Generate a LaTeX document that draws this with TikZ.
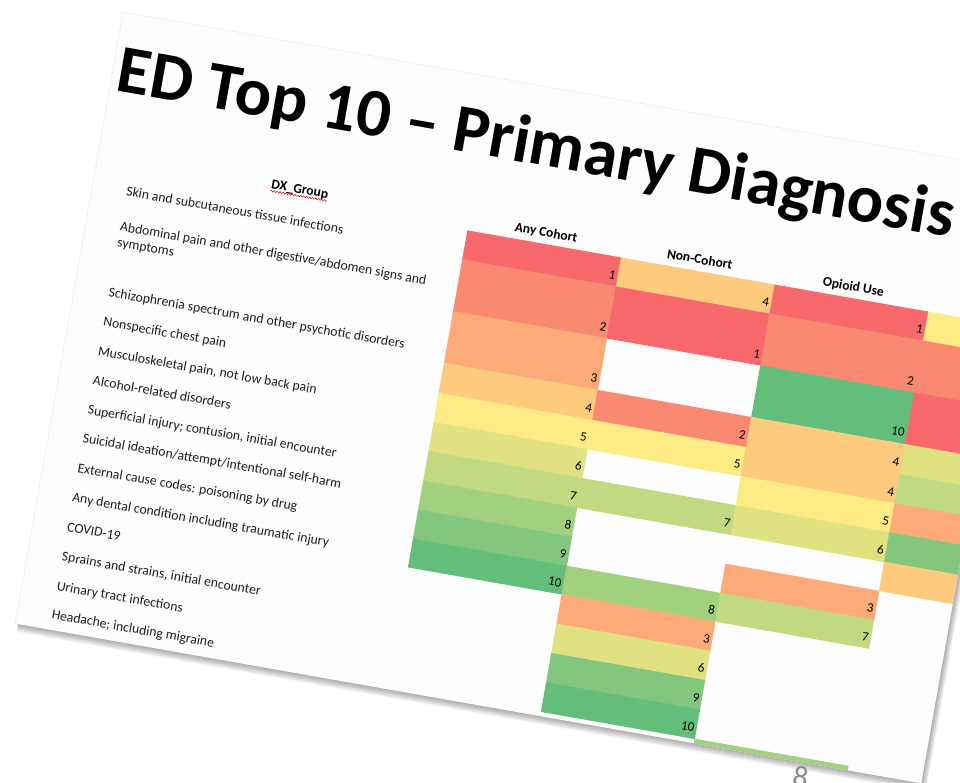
\documentclass[tikz,border=0pt]{standalone}
\usepackage{fontspec}
\setmainfont{Carlito}
\usetikzlibrary{decorations.pathmorphing}
\definecolor{r1}{RGB}{248,105,107}
\definecolor{r2}{RGB}{250,137,113}
\definecolor{r3}{RGB}{252,170,120}
\definecolor{r4}{RGB}{253,202,126}
\definecolor{r5}{RGB}{255,235,132}
\definecolor{r6}{RGB}{224,226,130}
\definecolor{r7}{RGB}{193,217,128}
\definecolor{r8}{RGB}{161,208,127}
\definecolor{r9}{RGB}{130,199,125}
\definecolor{r10}{RGB}{99,190,123}
\definecolor{slidebg}{RGB}{253,253,253}
\definecolor{pagegray}{RGB}{140,140,140}
\tikzset{
  num/.style={anchor=base east,inner sep=0pt,font=\fontsize{13}{15}\selectfont,text=black},
  lab/.style={anchor=base west,inner sep=0pt,font=\fontsize{13.7}{16}\selectfont,text=black!88},
  hdr/.style={anchor=base,inner sep=0pt,font=\fontsize{13.5}{16}\selectfont\bfseries,text=black},
}
\newcommand\cellnum[6]{\fill[#5] (#2,{#3-0.3}) rectangle ({#2+156.4},#4);
  \node[num] (#1) at ({#2+154},{#4-7}) {#6};}
\newcommand\cellonly[4]{\fill[#4] (#1,{#2-0.3}) rectangle ({#1+156.4},#3);}
\begin{document}
\begin{tikzpicture}[x=1pt,y=-1pt]
\useasboundingbox (0,0) rectangle (960,782);
\fill[white] (0,0) rectangle (960,782);
\begin{scope}[shift={(123,12)},rotate=-10,transform shape]
  % shadow
  \foreach \e in {1,...,8}
    \fill[black,opacity=0.045] (3,4) rectangle ({920+0.8*\e},{621+\e});
  % slide
  \fill[slidebg] (0,0) rectangle (920,621);
  \draw[black!7,line width=0.6pt] (0,621) -- (0,0) -- (920,0);
  \begin{scope}
    \clip (0,0) rectangle (920,621);
    % Any Cohort
    \cellnum{a1}{377}{155.5}{185}{r1}{1}
    \cellnum{a2}{377}{185}{237.5}{r2}{2}
    \cellnum{a3}{377}{237.5}{290}{r3}{3}
    \cellnum{a4}{377}{290}{320.5}{r4}{4}
    \cellnum{a5}{377}{320.5}{350}{r5}{5}
    \cellnum{a6}{377}{350}{379.5}{r6}{6}
    \cellnum{a7}{377}{379.5}{409.5}{r7}{7}
    \cellnum{a8}{377}{409.5}{439}{r8}{8}
    \cellnum{a9}{377}{439}{468.5}{r9}{9}
    \cellnum{a10}{377}{468.5}{497.5}{r10}{10}
    % Non-Cohort
    \cellnum{n1}{533}{155.5}{185}{r4}{4}
    \cellnum{n2}{533}{185}{237.5}{r1}{1}
    \cellnum{n4}{533}{290}{320.5}{r2}{2}
    \cellnum{n5}{533}{320.5}{350}{r5}{5}
    \cellnum{n7}{533}{379.5}{409.5}{r7}{7}
    \cellnum{n10}{533}{468.5}{497.5}{r8}{8}
    \cellnum{n11}{533}{497.5}{527.3}{r3}{3}
    \cellnum{n12}{533}{527.3}{557.1}{r6}{6}
    \cellnum{n13}{533}{557.1}{586.9}{r9}{9}
    \cellnum{n14}{533}{586.9}{616.7}{r10}{10}
    % Opioid Use
    \cellnum{o1}{689}{155.5}{185}{r1}{1}
    \cellnum{o2}{689}{185}{237.5}{r2}{2}
    \cellnum{o3}{689}{237.5}{290}{r10}{10}
    \cellnum{o4}{689}{290}{320.5}{r4}{4}
    \cellnum{o5}{689}{320.5}{350}{r4}{4}
    \cellnum{o6}{689}{350}{379.5}{r5}{5}
    \cellnum{o7}{689}{379.5}{409.5}{r6}{6}
    \cellnum{o9}{689}{439}{468.5}{r3}{3}
    \cellnum{o10}{689}{468.5}{497.5}{r7}{7}
    \cellonly{689}{616.7}{646.5}{r8}
    % fourth column (cut by slide edge)
    \cellonly{845}{155.5}{185}{r5}
    \cellonly{845}{185}{237.5}{r2}
    \cellonly{845}{237.5}{290}{r1}
    \cellonly{845}{290}{320.5}{r6}
    \cellonly{845}{320.5}{350}{r7}
    \cellonly{845}{350}{379.5}{r3}
    \cellonly{845}{379.5}{409.5}{r9}
    \cellonly{845}{409.5}{439}{r4}
  \end{scope}
  % title
  \node[anchor=base west,inner sep=0pt,font=\fontsize{68}{80}\selectfont\bfseries] (title) at (5.5,78.5) {ED Top 10 \textendash{} Primary Diagnosis};
  % headers
  \node[hdr] (dxhead) at (205,148) {DX\_Group};
  \draw[red!85!black,line width=0.5pt,decorate,decoration={snake,amplitude=0.8pt,segment length=3pt}] ([yshift=-2.5pt]dxhead.base west) -- ([yshift=-2.5pt]dxhead.base east);
  \node[hdr] (hany) at (455,148) {Any Cohort};
  \node[hdr] (hnon) at (611,148) {Non-Cohort};
  \node[hdr] (hopi) at (767,148) {Opioid Use};
  % labels
  \node[lab] (l1) at (34.5,180.5) {Skin and subcutaneous tissue infections};
  \node[lab] (l2) at (34.5,216) {\begin{tabular}[t]{@{}l@{}}Abdominal pain and other digestive/abdomen signs and\\ symptoms\end{tabular}};
  \node[lab] (l3) at (34.5,282.7) {Schizophrenia spectrum and other psychotic disorders};
  \node[lab] (l4) at (34.5,312.5) {Nonspecific chest pain};
  \node[lab] (l5) at (34.5,342.5) {Musculoskeletal pain, not low back pain};
  \node[lab] (l6) at (34.5,372.5) {Alcohol-related disorders};
  \node[lab] (l7) at (34.5,402) {Superficial injury; contusion, initial encounter};
  \node[lab] (l8) at (34.5,431) {Suicidal ideation/attempt/intentional self-harm};
  \node[lab] (l9) at (34.5,461) {External cause codes: poisoning by drug};
  \node[lab] (l10) at (34.5,491) {Any dental condition including traumatic injury};
  \node[lab] (l11) at (34.5,521) {COVID-19};
  \node[lab] (l12) at (34.5,551) {Sprains and strains, initial encounter};
  \node[lab] (l13) at (34.5,581) {Urinary tract infections};
  \node[lab] (l14) at (34.5,610) {Headache; including migraine};
\end{scope}
\node[inner sep=0pt,rotate=-10,text=pagegray,font=\fontsize{30}{32}\selectfont] (pagenum) at (800.5,777) {8};
\end{tikzpicture}
\end{document}
